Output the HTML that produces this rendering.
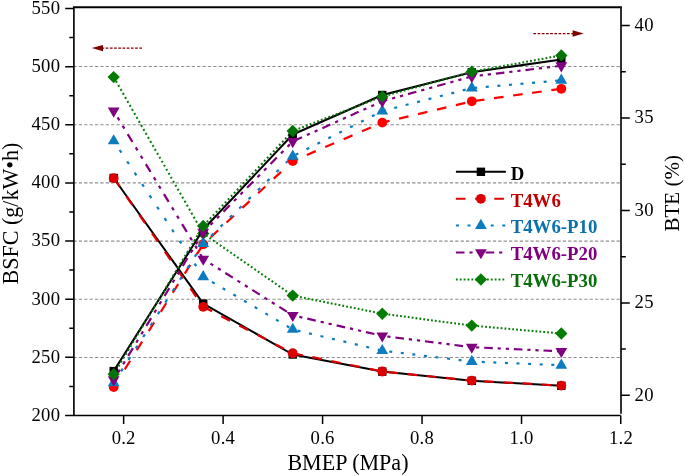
<!DOCTYPE html>
<html><head><meta charset="utf-8"><title>BSFC and BTE vs BMEP</title>
<style>html,body{margin:0;padding:0;background:#fff}body{width:685px;height:476px;overflow:hidden}svg{display:block}svg{will-change:transform}text{font-family:"Liberation Serif",serif;fill:#000}.tk{font-size:18.67px;letter-spacing:.22px}.ti{font-size:21.33px}.lg{font-size:18.8px;font-weight:bold}</style></head><body>
<svg width="685" height="476" viewBox="0 0 685 476">
<rect width="685" height="476" fill="#fff"/>
<g stroke="#8e8e8e" stroke-width="1.12" stroke-dasharray="3.25 2.1275" fill="none">
<path d="M73.42 357.50H621.0"/>
<path d="M73.42 299.30H621.0"/>
<path d="M73.42 241.10H621.0"/>
<path d="M73.42 182.90H621.0"/>
<path d="M73.42 124.70H621.0"/>
<path d="M73.42 66.50H621.0"/>
</g>
<polyline points="113.69,178.00 203.21,303.60 292.74,354.50 382.27,371.60 471.79,380.80 561.32,385.80" fill="none" stroke="#000000" stroke-width="2.0" stroke-linejoin="round"/>
<g fill="none" stroke="#dd0000" stroke-width="2.2"><path d="M113.69 178.10L203.21 306.80" stroke-dasharray="10.16 12.25" stroke-dashoffset="0.00"/><path d="M203.21 306.80L292.74 353.20" stroke-dasharray="9.79 10.48" stroke-dashoffset="20.18"/><path d="M292.74 353.20L382.27 371.50" stroke-dasharray="9.64 9.77" stroke-dashoffset="18.86"/><path d="M382.27 371.50L471.79 380.60" stroke-dasharray="9.61 9.64" stroke-dashoffset="13.10"/><path d="M471.79 380.60L561.32 385.60" stroke-dasharray="9.60 9.61" stroke-dashoffset="6.81"/></g>
<g fill="none" stroke="#0c7bc0" stroke-width="2.2"><path d="M113.69 140.95L203.21 276.75" stroke-dasharray="3.18 10.42" stroke-dashoffset="2.76"/><path d="M203.21 276.75L292.74 329.45" stroke-dasharray="3.07 9.31" stroke-dashoffset="2.18"/><path d="M292.74 329.45L382.27 350.65" stroke-dasharray="3.01 8.75" stroke-dashoffset="6.77"/><path d="M382.27 350.65L471.79 361.55" stroke-dasharray="3.00 8.64" stroke-dashoffset="4.62"/><path d="M471.79 361.55L561.32 365.25" stroke-dasharray="3.00 8.60" stroke-dashoffset="1.64"/></g>
<g fill="none" stroke="#800080" stroke-width="2.2"><path d="M113.69 110.95L203.21 259.05" stroke-dasharray="9.14 6.37 3.40 6.37 3.40 6.37" stroke-dashoffset="7.97"/><path d="M203.21 259.05L292.74 315.35" stroke-dasharray="8.82 5.50 3.28 5.50 3.28 5.50" stroke-dashoffset="5.73"/><path d="M292.74 315.35L382.27 335.85" stroke-dasharray="8.64 5.01 3.21 5.01 3.21 5.01" stroke-dashoffset="15.16"/><path d="M382.27 335.85L471.79 347.15" stroke-dasharray="8.61 4.93 3.20 4.93 3.20 4.93" stroke-dashoffset="16.59"/><path d="M471.79 347.15L561.32 351.35" stroke-dasharray="8.60 4.90 3.20 4.90 3.20 4.90" stroke-dashoffset="17.31"/></g>
<g fill="none" stroke="#047c04" stroke-width="2.05"><path d="M113.69 77.10L203.21 233.50" stroke-dasharray="1.92 2.68" stroke-dashoffset="0.00"/><path d="M203.21 233.50L292.74 295.60" stroke-dasharray="1.85 2.35" stroke-dashoffset="0.74"/><path d="M292.74 295.60L382.27 313.70" stroke-dasharray="1.81 2.11" stroke-dashoffset="0.37"/><path d="M382.27 313.70L471.79 325.60" stroke-dasharray="1.80 2.10" stroke-dashoffset="1.52"/><path d="M471.79 325.60L561.32 333.50" stroke-dasharray="1.80 2.09" stroke-dashoffset="2.17"/></g>
<rect x="109.49" y="173.80" width="8.40" height="8.40" fill="#000000"/><rect x="199.01" y="299.40" width="8.40" height="8.40" fill="#000000"/><rect x="288.54" y="350.30" width="8.40" height="8.40" fill="#000000"/><rect x="378.07" y="367.40" width="8.40" height="8.40" fill="#000000"/><rect x="467.59" y="376.60" width="8.40" height="8.40" fill="#000000"/><rect x="557.12" y="381.60" width="8.40" height="8.40" fill="#000000"/>
<circle cx="113.69" cy="178.10" r="4.90" fill="#dd0000"/><circle cx="203.21" cy="306.80" r="4.90" fill="#dd0000"/><circle cx="292.74" cy="353.20" r="4.90" fill="#dd0000"/><circle cx="382.27" cy="371.50" r="4.90" fill="#dd0000"/><circle cx="471.79" cy="380.60" r="4.90" fill="#dd0000"/><circle cx="561.32" cy="385.60" r="4.90" fill="#dd0000"/>
<path d="M107.79 144.35L119.59 144.35L113.69 134.25Z" fill="#0c7bc0"/><path d="M197.31 280.15L209.11 280.15L203.21 270.05Z" fill="#0c7bc0"/><path d="M286.84 332.85L298.64 332.85L292.74 322.75Z" fill="#0c7bc0"/><path d="M376.37 354.05L388.17 354.05L382.27 343.95Z" fill="#0c7bc0"/><path d="M465.89 364.95L477.69 364.95L471.79 354.85Z" fill="#0c7bc0"/><path d="M555.42 368.65L567.22 368.65L561.32 358.55Z" fill="#0c7bc0"/>
<path d="M107.79 107.55L119.59 107.55L113.69 117.65Z" fill="#800080"/><path d="M197.31 255.65L209.11 255.65L203.21 265.75Z" fill="#800080"/><path d="M286.84 311.95L298.64 311.95L292.74 322.05Z" fill="#800080"/><path d="M376.37 332.45L388.17 332.45L382.27 342.55Z" fill="#800080"/><path d="M465.89 343.75L477.69 343.75L471.79 353.85Z" fill="#800080"/><path d="M555.42 347.95L567.22 347.95L561.32 358.05Z" fill="#800080"/>
<path d="M107.49 77.10L113.69 70.90L119.89 77.10L113.69 83.30Z" fill="#047c04"/><path d="M197.01 233.50L203.21 227.30L209.41 233.50L203.21 239.70Z" fill="#047c04"/><path d="M286.54 295.60L292.74 289.40L298.94 295.60L292.74 301.80Z" fill="#047c04"/><path d="M376.07 313.70L382.27 307.50L388.47 313.70L382.27 319.90Z" fill="#047c04"/><path d="M465.59 325.60L471.79 319.40L477.99 325.60L471.79 331.80Z" fill="#047c04"/><path d="M555.12 333.50L561.32 327.30L567.52 333.50L561.32 339.70Z" fill="#047c04"/>
<polyline points="113.69,371.10 203.21,229.50 292.74,134.50 382.27,95.00 471.79,72.30 561.32,59.50" fill="none" stroke="#000000" stroke-width="2.0" stroke-linejoin="round"/>
<g fill="none" stroke="#ff0000" stroke-width="2.2"><path d="M119.00 378.53L203.21 244.20" stroke-dasharray="10.20 12.41" stroke-dashoffset="11.81"/><path d="M203.21 244.20L292.74 161.00" stroke-dasharray="10.00 11.46" stroke-dashoffset="11.03"/><path d="M292.74 161.00L382.27 122.60" stroke-dasharray="9.74 10.25" stroke-dashoffset="4.68"/><path d="M382.27 122.60L471.79 101.30" stroke-dasharray="9.65 9.83" stroke-dashoffset="2.21"/><path d="M471.79 101.30L561.32 88.80" stroke-dasharray="9.62 9.68" stroke-dashoffset="16.20"/></g>
<g fill="none" stroke="#0c7bc0" stroke-width="2.2"><path d="M113.69 382.85L203.21 243.55" stroke-dasharray="3.18 10.45" stroke-dashoffset="0.00"/><path d="M203.21 243.55L292.74 156.25" stroke-dasharray="3.13 9.90" stroke-dashoffset="1.81"/><path d="M292.74 156.25L382.27 111.05" stroke-dasharray="3.06 9.16" stroke-dashoffset="9.07"/><path d="M382.27 111.05L471.79 88.05" stroke-dasharray="3.02 8.77" stroke-dashoffset="11.25"/><path d="M471.79 88.05L561.32 80.25" stroke-dasharray="3.00 8.62" stroke-dashoffset="9.22"/></g>
<g fill="none" stroke="#800080" stroke-width="2.2"><path d="M113.69 379.75L203.21 232.25" stroke-dasharray="9.14 6.37 3.40 6.37 3.40 6.37" stroke-dashoffset="7.12"/><path d="M203.21 232.25L292.74 141.45" stroke-dasharray="8.99 5.94 3.34 5.94 3.34 5.94" stroke-dashoffset="4.60"/><path d="M292.74 141.45L382.27 101.25" stroke-dasharray="8.73 5.26 3.25 5.26 3.25 5.26" stroke-dashoffset="29.54"/><path d="M382.27 101.25L471.79 76.45" stroke-dasharray="8.66 5.05 3.22 5.05 3.22 5.05" stroke-dashoffset="3.54"/><path d="M471.79 76.45L561.32 65.75" stroke-dasharray="8.61 4.93 3.20 4.93 3.20 4.93" stroke-dashoffset="5.59"/></g>
<g fill="none" stroke="#067306" stroke-width="2.05"><path d="M113.69 374.20L203.21 226.00" stroke-dasharray="1.91 2.67" stroke-dashoffset="0.00"/><path d="M203.21 226.00L292.74 131.00" stroke-dasharray="1.88 2.51" stroke-dashoffset="3.45"/><path d="M292.74 131.00L382.27 96.60" stroke-dasharray="1.82 2.19" stroke-dashoffset="1.88"/><path d="M382.27 96.60L471.79 71.80" stroke-dasharray="1.81 2.14" stroke-dashoffset="1.50"/><path d="M471.79 71.80L561.32 55.40" stroke-dasharray="1.81 2.11" stroke-dashoffset="3.45"/></g>
<rect x="109.49" y="366.90" width="8.40" height="8.40" fill="#000000"/><rect x="199.01" y="225.30" width="8.40" height="8.40" fill="#000000"/><rect x="288.54" y="130.30" width="8.40" height="8.40" fill="#000000"/><rect x="378.07" y="90.80" width="8.40" height="8.40" fill="#000000"/><rect x="467.59" y="68.10" width="8.40" height="8.40" fill="#000000"/><rect x="557.12" y="55.30" width="8.40" height="8.40" fill="#000000"/>
<circle cx="113.69" cy="387.00" r="4.90" fill="#ff0000"/><circle cx="203.21" cy="244.20" r="4.90" fill="#ff0000"/><circle cx="292.74" cy="161.00" r="4.90" fill="#ff0000"/><circle cx="382.27" cy="122.60" r="4.90" fill="#ff0000"/><circle cx="471.79" cy="101.30" r="4.90" fill="#ff0000"/><circle cx="561.32" cy="88.80" r="4.90" fill="#ff0000"/>
<path d="M107.79 386.25L119.59 386.25L113.69 376.15Z" fill="#0c7bc0"/><path d="M197.31 246.95L209.11 246.95L203.21 236.85Z" fill="#0c7bc0"/><path d="M286.84 159.65L298.64 159.65L292.74 149.55Z" fill="#0c7bc0"/><path d="M376.37 114.45L388.17 114.45L382.27 104.35Z" fill="#0c7bc0"/><path d="M465.89 91.45L477.69 91.45L471.79 81.35Z" fill="#0c7bc0"/><path d="M555.42 83.65L567.22 83.65L561.32 73.55Z" fill="#0c7bc0"/>
<path d="M107.79 376.35L119.59 376.35L113.69 386.45Z" fill="#800080"/><path d="M197.31 228.85L209.11 228.85L203.21 238.95Z" fill="#800080"/><path d="M286.84 138.05L298.64 138.05L292.74 148.15Z" fill="#800080"/><path d="M376.37 97.85L388.17 97.85L382.27 107.95Z" fill="#800080"/><path d="M465.89 73.05L477.69 73.05L471.79 83.15Z" fill="#800080"/><path d="M555.42 62.35L567.22 62.35L561.32 72.45Z" fill="#800080"/>
<path d="M107.49 374.20L113.69 368.00L119.89 374.20L113.69 380.40Z" fill="#067306"/><path d="M197.01 226.00L203.21 219.80L209.41 226.00L203.21 232.20Z" fill="#067306"/><path d="M286.54 131.00L292.74 124.80L298.94 131.00L292.74 137.20Z" fill="#067306"/><path d="M376.07 96.60L382.27 90.40L388.47 96.60L382.27 102.80Z" fill="#067306"/><path d="M465.59 71.80L471.79 65.60L477.99 71.80L471.79 78.00Z" fill="#067306"/><path d="M555.12 55.40L561.32 49.20L567.52 55.40L561.32 61.60Z" fill="#067306"/>
<path d="M73.0 7.2H622.0" stroke="#000" stroke-width="1.85" fill="none"/>
<path d="M621.0 7.2V413.7" stroke="#262626" stroke-width="1.9" fill="none"/>
<path d="M73.9 7.2V415.4" stroke="#000" stroke-width="1.65" fill="none"/>
<path d="M65.1 415.4H620.7" stroke="#000" stroke-width="1.55" fill="none"/>
<g stroke="#000" stroke-width="1.5" fill="none" stroke-linecap="butt">
<path d="M73.9 386.38h-4.6M73.9 357.31h-8.7M73.9 328.24h-4.6M73.9 299.18h-8.7M73.9 270.11h-4.6M73.9 241.04h-8.7M73.9 211.97h-4.6M73.9 182.91h-8.7M73.9 153.84h-4.6M73.9 124.77h-8.7M73.9 95.70h-4.6M73.9 66.64h-8.7M73.9 37.57h-4.6M73.9 8.50h-8.7"/>
<path d="M621.0 395.30h8.8M621.0 349.09h4.8M621.0 302.88h8.8M621.0 256.66h4.8M621.0 210.45h8.8M621.0 164.24h4.8M621.0 118.03h8.8M621.0 71.81h4.8M621.0 25.60h8.8"/>
<path d="M123.64 415.4v8.5M223.11 415.4v8.5M322.58 415.4v8.5M422.05 415.4v8.5M521.53 415.4v8.5M620.75 415.4v8.5"/>
</g>
<g class="tk" text-anchor="end">
<text x="60.2" y="420.78">200</text>
<text x="60.2" y="362.65">250</text>
<text x="60.2" y="304.52">300</text>
<text x="60.2" y="246.40">350</text>
<text x="60.2" y="188.28">400</text>
<text x="60.2" y="130.15">450</text>
<text x="60.2" y="72.03">500</text>
<text x="60.2" y="13.90">550</text>
</g><g class="tk" text-anchor="start">
<text x="634.6" y="400.70">20</text>
<text x="634.6" y="308.27">25</text>
<text x="634.6" y="215.85">30</text>
<text x="634.6" y="123.43">35</text>
<text x="634.6" y="31.00">40</text>
</g><g class="tk" text-anchor="middle">
<text x="123.64" y="444">0.2</text>
<text x="223.11" y="444">0.4</text>
<text x="322.58" y="444">0.6</text>
<text x="422.05" y="444">0.8</text>
<text x="521.53" y="444">1.0</text>
<text x="621.00" y="444">1.2</text>
</g>
<text class="ti" text-anchor="middle" x="347.95" y="469.7" style="font-size:22.05px">BMEP (MPa)</text>
<text class="ti" text-anchor="middle" transform="translate(17.7 213.6) rotate(-90)" style="font-size:22.05px">BSFC (g/kW•h)</text>
<text class="ti" text-anchor="middle" transform="translate(679 193.3) rotate(-90)" style="font-size:21px">BTE (%)</text>
<g stroke="#800000" stroke-width="1.25" stroke-dasharray="2.7 1.5" fill="none"><path d="M142 48.1H102"/><path d="M533.4 33.5H573"/></g>
<path d="M91.7 48.1L103 44.9V51.3Z" fill="#800000"/><path d="M583.7 33.5L572.6 30.3V36.7Z" fill="#800000"/>
<path d="M455.9 171.8H505.9" fill="none" stroke="#000000" stroke-width="2"/>
<rect x="476.70" y="167.60" width="8.40" height="8.40" fill="#000000"/>
<text class="lg" x="510.7" y="179.50" style="fill:#000">D</text>
<path d="M455.9 198.8H505.9" fill="none" stroke="#dd0000" stroke-width="2" stroke-dasharray="9.6 9.6"/>
<circle cx="480.90" cy="198.80" r="4.90" fill="#dd0000"/>
<text class="lg" x="510.7" y="206.50" style="fill:#c00000">T4W6</text>
<path d="M455.9 225.5H505.9" fill="none" stroke="#0c7bc0" stroke-width="2" stroke-dasharray="3.0 8.6"/>
<path d="M475.00 228.90L486.80 228.90L480.90 218.80Z" fill="#0c7bc0"/>
<text class="lg" x="510.7" y="233.20" style="fill:#0a70ae">T4W6-P10</text>
<path d="M455.9 252.6H505.9" fill="none" stroke="#800080" stroke-width="2" stroke-dasharray="8.6 4.9 3.2 4.9 3.2 4.9"/>
<path d="M475.00 249.20L486.80 249.20L480.90 259.30Z" fill="#800080"/>
<text class="lg" x="510.7" y="260.30" style="fill:#800080">T4W6-P20</text>
<path d="M455.9 279.5H505.9" fill="none" stroke="#047c04" stroke-width="2" stroke-dasharray="1.8 2.08"/>
<path d="M474.70 279.50L480.90 273.30L487.10 279.50L480.90 285.70Z" fill="#047c04"/>
<text class="lg" x="510.7" y="287.20" style="fill:#0a6e0a">T4W6-P30</text>
</svg></body></html>
